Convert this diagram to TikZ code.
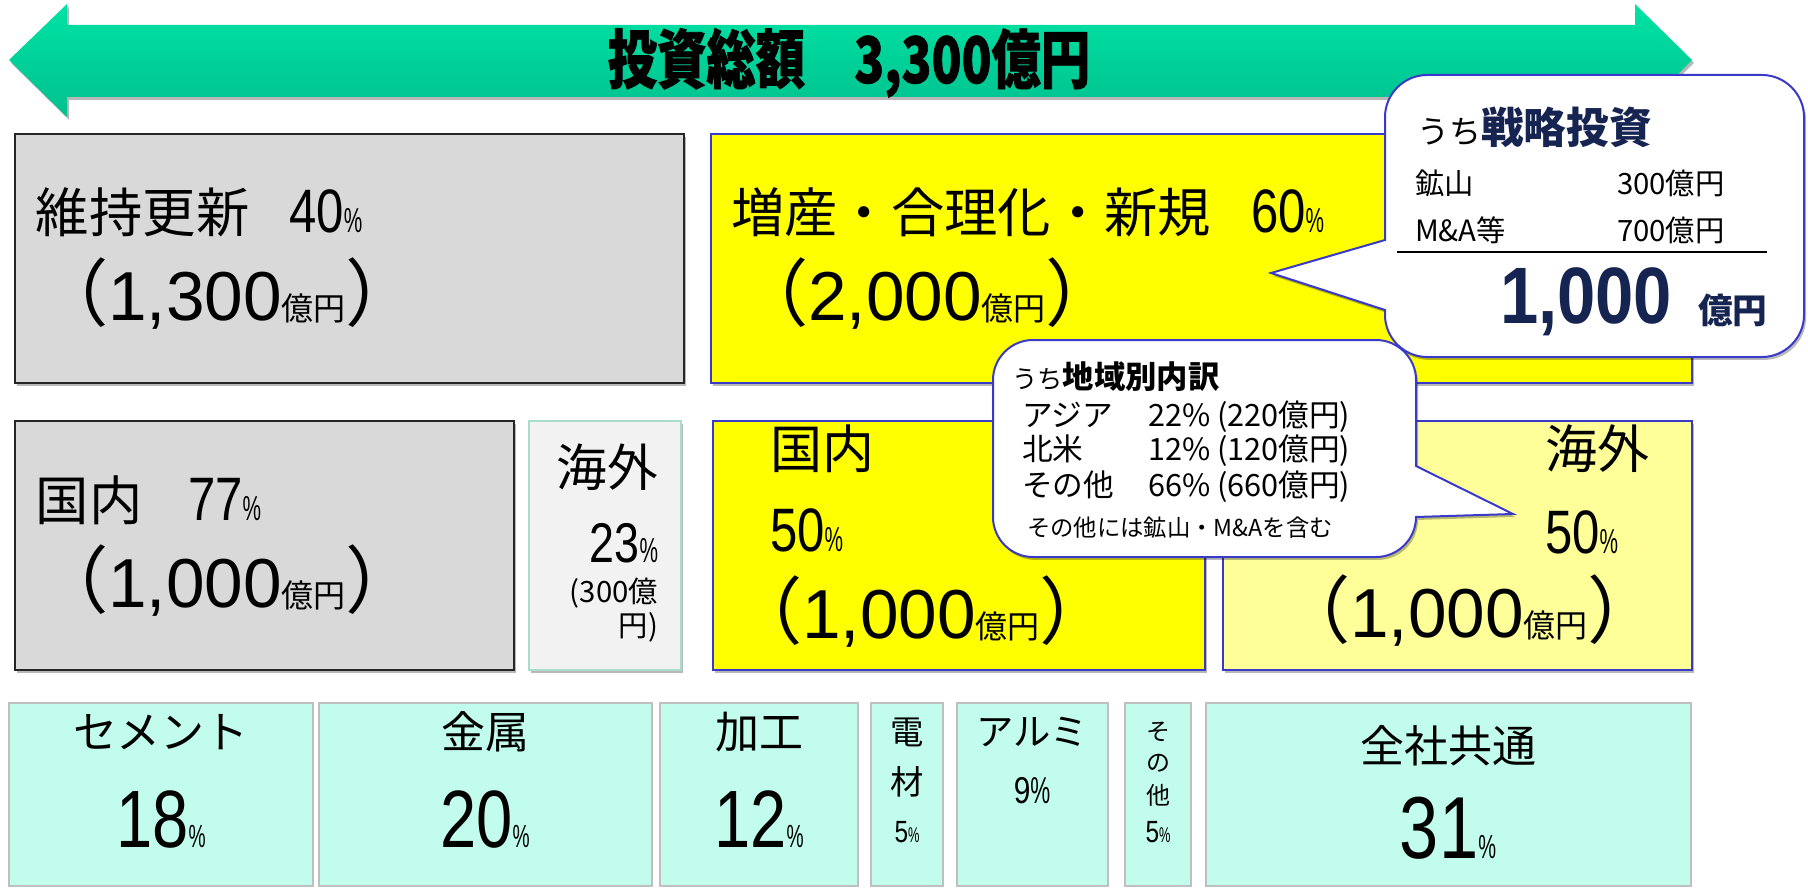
\documentclass[tikz,border=0pt]{standalone}
\usepackage{fontspec}
\usepackage{graphicx}
\setmainfont{Noto Sans CJK JP}
\newfontfamily\titlef[BoldFeatures={FakeBold=1.3}]{Noto Sans CJK JP}
\newfontfamily\pctf[FakeStretch=0.6]{Liberation Sans}
\newfontfamily\condf[FakeStretch=0.8]{Liberation Sans}
\newfontfamily\numf{Liberation Sans}
\newfontfamily\arialf{Liberation Sans}
\usetikzlibrary{shadows}
\newcommand\fsz[1]{\fontsize{#1}{#1}\selectfont}
\definecolor{boxgray}{HTML}{D9D9D9}
\definecolor{lgray}{HTML}{F2F2F2}
\definecolor{lteal}{HTML}{A9DCCB}
\definecolor{ylw}{HTML}{FFFF00}
\definecolor{lylw}{HTML}{FFFF99}
\definecolor{bblue}{HTML}{3A3AC8}
\definecolor{mint}{HTML}{C2FCEC}
\definecolor{mintb}{HTML}{BFBFBF}
\definecolor{navy}{HTML}{162452}
\definecolor{arrtop}{HTML}{00E3A4}
\definecolor{arrbot}{HTML}{00C08E}
\tikzset{
  shd/.style={drop shadow={shadow xshift=1.5pt, shadow yshift=-2.2pt, opacity=0.28, fill=black}},
  graybox/.style={draw=black!85, line width=1.4pt, fill=boxgray, shd},
  lgraybox/.style={draw=lteal, line width=1.4pt, fill=lgray, shd},
  ybox/.style={draw=bblue, line width=1.4pt, fill=ylw, shd},
  lybox/.style={draw=bblue, line width=1.4pt, fill=lylw, shd},
  mintbox/.style={draw=mintb, line width=1.1pt, fill=mint},
  callout/.style={draw=bblue, line width=1.5pt, fill=white, shd},
  txt/.style={inner sep=0pt, outer sep=0pt},
}
\begin{document}
\begin{tikzpicture}[x=0.75pt,y=-0.75pt]
\useasboundingbox (0,0) rectangle (1808,888);

% big arrow
\draw[draw=none, top color=arrtop, bottom color=arrbot, shd]
  (9,60) -- (67,4) -- (67,25) -- (1635,25) -- (1635,4) -- (1692,60)
  -- (1635,117) -- (1635,97) -- (67,97) -- (67,117) -- cycle;
\node[txt, anchor=base, font=\titlef\bfseries\fsz{48}] (title) at (849,83)
  {\scalebox{0.77}[1]{投資総額　3,300億円}};

% row 1
\draw[graybox] (15,134) rectangle (684,383);
\node[txt, anchor=base west, font=\fsz{40}] (ijl1) at (36,232)
  {維持更新\hspace{30pt}{\condf\fsz{46}40}{\pctf\fsz{26}\%}};
\node[txt, anchor=base west, font=\fsz{55}] (ijl2) at (35,320)
  {（{\numf\fsz{52}1,300}{\fsz{24}億円}）};

\draw[ybox] (711,134) rectangle (1692,383);
\node[txt, anchor=base west, font=\fsz{40}] (zsl1) at (731,232)
  {増産・合理化・新規\hspace{30pt}{\condf\fsz{46}60}{\pctf\fsz{26}\%}};
\node[txt, anchor=base west, font=\fsz{55}] (zsl2) at (735,320)
  {（{\numf\fsz{52}2,000}{\fsz{24}億円}）};

% row 2
\draw[graybox] (15,421) rectangle (514,670);
\node[txt, anchor=base west, font=\fsz{40}] (kn1) at (36,520)
  {国内\hspace{34pt}{\condf\fsz{46}77}{\pctf\fsz{26}\%}};
\node[txt, anchor=base west, font=\fsz{55}] (kn2) at (35,607)
  {（{\numf\fsz{52}1,000}{\fsz{24}億円}）};

\draw[lgraybox] (529,421) rectangle (681,670);
\node[txt, anchor=base east, font=\fsz{38}] (kg1) at (658,486) {海外};
\node[txt, anchor=base east, font=\condf\fsz{42}] (kg2) at (658,562) {23{\pctf\fsz{26}\%}};
\node[txt, anchor=base east, font=\fsz{22}] (kg3) at (658,602) {(300億};
\node[txt, anchor=base east, font=\fsz{22}] (kg4) at (658,636) {円)};

\draw[ybox] (713,421) rectangle (1205,670);
\node[txt, anchor=base west, font=\fsz{39}] (zk1) at (770,468) {国内};
\node[txt, anchor=base west, font=\condf\fsz{46}] (zk2) at (770,551) {50{\pctf\fsz{26}\%}};
\node[txt, anchor=base west, font=\fsz{55}] (zk3) at (729,638)
  {（{\numf\fsz{52}1,000}{\fsz{24}億円}）};

\draw[lybox] (1223,421) rectangle (1692,670);
\node[txt, anchor=base west, font=\fsz{39}] (zg1) at (1545,468) {海外};
\node[txt, anchor=base west, font=\condf\fsz{46}] (zg2) at (1545,553) {50{\pctf\fsz{26}\%}};
\node[txt, anchor=base west, font=\fsz{55}] (zg3) at (1277,637)
  {（{\numf\fsz{52}1,000}{\fsz{24}億円}）};

% callout 1 : strategic investment
\draw[callout] (1385,240) -- (1271,273) -- (1385,310) -- (1385,315)
  .. controls (1385,338) and (1404,357) .. (1427,357) -- (1762,357)
  .. controls (1785,357) and (1804,338) .. (1804,315) -- (1804,117)
  .. controls (1804,94) and (1785,75) .. (1762,75) -- (1427,75)
  .. controls (1404,75) and (1385,94) .. (1385,117) -- cycle;
\node[txt, anchor=base west] (sh) at (1417,143)
  {{\fsz{24}うち}{\bfseries\color{navy}\fsz{32}戦略投資}};
\node[txt, anchor=base west, font=\fsz{22}] (s1a) at (1415,194) {鉱山};
\node[txt, anchor=base west, font=\fsz{22}] (s1b) at (1617,194) {300億円};
\node[txt, anchor=base west, font=\fsz{22}] (s2a) at (1415,241) {M\&A等};
\node[txt, anchor=base west, font=\fsz{22}] (s2b) at (1617,241) {700億円};
\coordinate (sl1) at (1397,252);
\coordinate (sl2) at (1767,252);
\draw[line width=1pt] (sl1) -- (sl2);
\node[txt, anchor=base west, font=\arialf\bfseries\fsz{60}, text=navy] (stot) at (1500,323)
  {\scalebox{0.86}[1]{1,000}};
\node[txt, anchor=base west, font=\bfseries\fsz{26}, text=navy] (sunit) at (1698,323) {億円};

% callout 2 : regional breakdown
\draw[callout] (1416,466) -- (1513,514) -- (1416,517)
  .. controls (1416,539) and (1398,557) .. (1376,557) -- (1033,557)
  .. controls (1011,557) and (993,539) .. (993,517) -- (993,380)
  .. controls (993,358) and (1011,340) .. (1033,340) -- (1376,340)
  .. controls (1398,340) and (1416,358) .. (1416,380) -- cycle;
\node[txt, anchor=base west] (rh) at (1012,388)
  {{\fsz{19}うち}{\bfseries\fsz{23.5}地域別内訳}};
\node[txt, anchor=base west, font=\fsz{23}] (r1a) at (1022,426) {アジア};
\node[txt, anchor=base west, font=\fsz{23}] (r1b) at (1148,426) {22\% (220億円)};
\node[txt, anchor=base west, font=\fsz{23}] (r2a) at (1022,460) {北米};
\node[txt, anchor=base west, font=\fsz{23}] (r2b) at (1148,460) {12\% (120億円)};
\node[txt, anchor=base west, font=\fsz{23}] (r3a) at (1022,496) {その他};
\node[txt, anchor=base west, font=\fsz{23}] (r3b) at (1148,496) {66\% (660億円)};
\node[txt, anchor=base west, font=\fsz{17.5}] (rn) at (1027,536) {その他には鉱山・M\&Aを含む};

% bottom row
\draw[mintbox] (9,703) rectangle (313,886);
\node[txt, anchor=base, font=\fsz{33}] (b1a) at (161,748) {セメント};
\node[txt, anchor=base, font=\condf\fsz{61}] (b1b) at (161,847) {18{\pctf\fsz{24}\%}};
\draw[mintbox] (319,703) rectangle (652,886);
\node[txt, anchor=base, font=\fsz{33}] (b2a) at (485,748) {金属};
\node[txt, anchor=base, font=\condf\fsz{61}] (b2b) at (485,847) {20{\pctf\fsz{24}\%}};
\draw[mintbox] (660,703) rectangle (858,886);
\node[txt, anchor=base, font=\fsz{33}] (b3a) at (759,748) {加工};
\node[txt, anchor=base, font=\condf\fsz{61}] (b3b) at (759,847) {12{\pctf\fsz{24}\%}};
\draw[mintbox] (871,703) rectangle (943,886);
\node[txt, anchor=base, font=\fsz{25}] (b4a) at (907,744) {電};
\node[txt, anchor=base, font=\fsz{25}] (b4b) at (907,794) {材};
\node[txt, anchor=base, font=\condf\fsz{23}] (b4c) at (907,842) {5{\pctf\fsz{16}\%}};
\draw[mintbox] (957,703) rectangle (1108,886);
\node[txt, anchor=base, font=\fsz{28}] (b5a) at (1032,745) {アルミ};
\node[txt, anchor=base, font=\condf\fsz{28}] (b5b) at (1032,803) {9{\pctf\fsz{28}\%}};
\draw[mintbox] (1125,703) rectangle (1191,886);
\node[txt, anchor=base, font=\fsz{18}] (b6a) at (1158,740) {そ};
\node[txt, anchor=base, font=\fsz{18}] (b6b) at (1158,771) {の};
\node[txt, anchor=base, font=\fsz{18}] (b6c) at (1158,804) {他};
\node[txt, anchor=base, font=\condf\fsz{23}] (b6d) at (1158,842) {5{\pctf\fsz{16}\%}};
\draw[mintbox] (1206,703) rectangle (1691,886);
\node[txt, anchor=base, font=\fsz{33}] (b7a) at (1448,762) {全社共通};
\node[txt, anchor=base, font=\condf\fsz{66}] (b7b) at (1448,858) {31{\pctf\fsz{25}\%}};
\end{tikzpicture}
\end{document}
